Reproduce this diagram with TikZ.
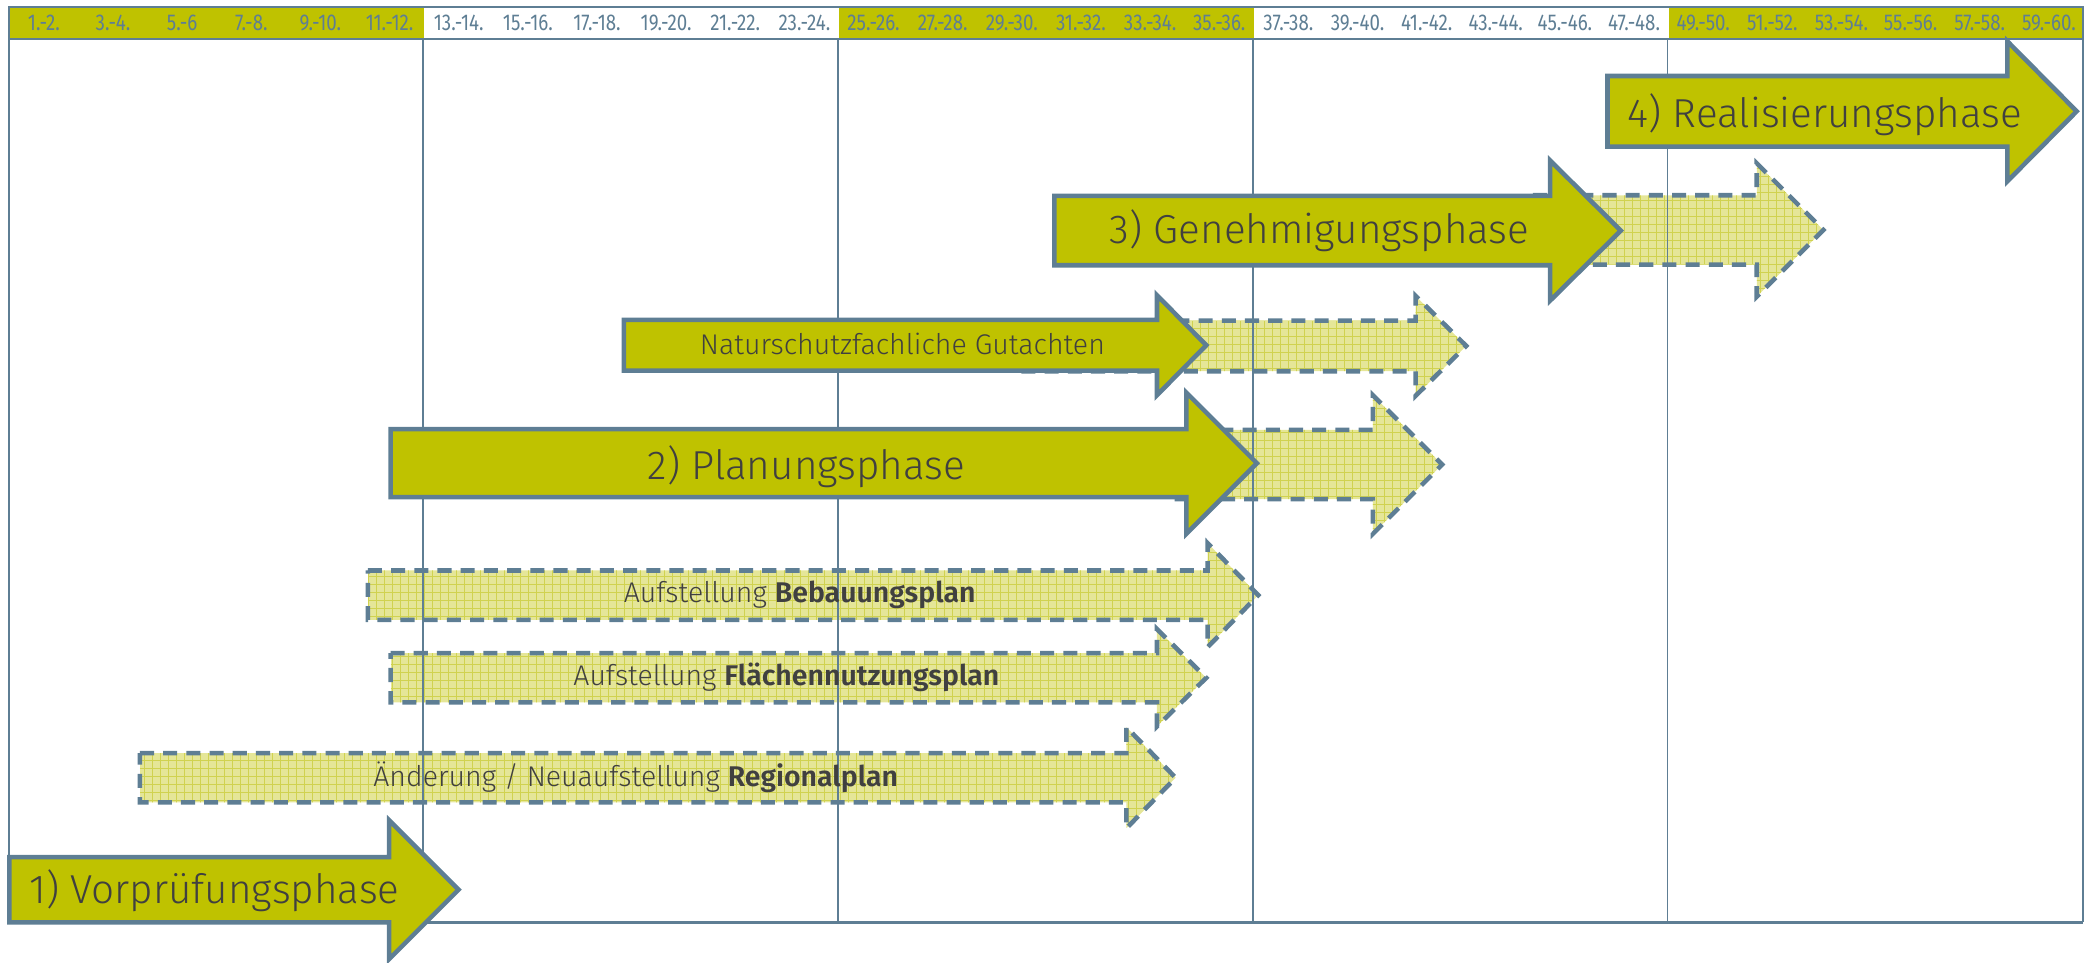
\documentclass[tikz,border=0pt]{standalone}
\usepackage{fontspec}
\setmainfont{Fira Sans}[UprightFont={* Light},BoldFont={* SemiBold}]
\newfontfamily\weekfont{Fira Sans}[FakeStretch=0.82]
\definecolor{phasegreen}{RGB}{191,194,0}
\definecolor{rulegray}{RGB}{94,126,148}
\definecolor{textgray}{RGB}{64,64,64}
\definecolor{hatchbase}{RGB}{229,230,152}
\definecolor{hatchline}{RGB}{208,210,80}
% arrow outline: left, head base, tip, centre y, half body, half head
\newcommand{\arrowpath}[6]{(#1,#4-#5) -- (#2,#4-#5) -- (#2,#4-#6) -- (#3,#4) -- (#2,#4+#6) -- (#2,#4+#5) -- (#1,#4+#5) -- cycle}
\newcommand{\gridarrow}[6]{%
  \begin{scope}
    \clip \arrowpath{#1}{#2}{#3}{#4}{#5}{#6};
    \fill[hatchfill] (#1,#4+#6) rectangle (#3,#4-#6);
    \draw[hatchgrid] (#1,#4+#6) grid (#3,#4-#6);
  \end{scope}
  \draw[hatchedge] \arrowpath{#1}{#2}{#3}{#4}{#5}{#6};}
\begin{document}
\begin{tikzpicture}[x=0.13329mm,y=-0.13329mm,
  rule/.style={draw=rulegray,line width=0.55pt},
  phase/.style={fill=phasegreen,draw=rulegray,line width=1.3pt,line join=miter},
  hatchfill/.style={fill=hatchbase},
  hatchgrid/.style={draw=hatchline,line width=0.25pt,step=0.8mm},
  hatchedge/.style={draw=rulegray,line width=1.3pt,dash pattern=on 4pt off 2.6pt},
  biglabel/.style={text=textgray,font=\fontsize{11.5}{13}\selectfont,inner sep=0pt},
  midlabel/.style={text=textgray,font=\fontsize{8.1}{9}\selectfont,inner sep=0pt},
  weeklabel/.style={text=rulegray,font=\weekfont\fontsize{6.5}{7}\selectfont,inner sep=0pt}]
  \useasboundingbox (0,0) rectangle (1568,722);
  % header
  \foreach \k in {0,2,4}
    \fill[phasegreen] ({7+\k*311.2},5) rectangle ({7+(\k+1)*311.2},29);
  \foreach \lab [count=\i] in {1.-2.,3.-4.,5.-6,7.-8.,9.-10.,11.-12.,13.-14.,15.-16.,17.-18.,19.-20.,
      21.-22.,23.-24.,25.-26.,27.-28.,29.-30.,31.-32.,33.-34.,35.-36.,37.-38.,39.-40.,
      41.-42.,43.-44.,45.-46.,47.-48.,49.-50.,51.-52.,53.-54.,55.-56.,57.-58.,59.-60.}
    \node[weeklabel] (w\i) at ({7+(\i-0.5)*51.87},17.5) {\lab};
  % open steps
  \gridarrow{105}{845}{882}{583.5}{18.5}{38}
  \gridarrow{293}{868}{905}{508.5}{18.5}{36.5}
  \gridarrow{276}{906}{944}{446.5}{18.5}{39}
  \gridarrow{880}{1030}{1082}{348.5}{26}{52}
  \gridarrow{760}{1062}{1100}{259.5}{19}{37.5}
  \gridarrow{1150}{1318}{1368}{172.5}{26}{50}
  % grid
  \draw[rule] (7,29) -- (1563,29);
  \foreach \x in {317,629,940,1251}
    \draw[rule] (\x,29) -- (\x,692);
  \draw[rule,line width=0.65pt] (7,692) -- (7,5) -- (1563,5) -- (1563,692);
  \draw[rule,line width=0.9pt] (7,692) -- (1563,692);
  % phases
  \draw[phase] \arrowpath{7}{292}{344}{667.5}{24.5}{52};
  \draw[phase] \arrowpath{293}{890}{943}{347.5}{25.5}{53};
  \draw[phase] \arrowpath{468}{868}{905}{259}{19}{37.5};
  \draw[phase] \arrowpath{791}{1163}{1216}{173}{26}{52.5};
  \draw[phase] \arrowpath{1206}{1506}{1558}{83.5}{26.5}{52.5};
  % labels
  \node[biglabel] (vor) at (161,668) {1) Vorprüfungsphase};
  \node[midlabel] (regio) at (477,583) {Änderung / Neuaufstellung \textbf{Regionalplan}};
  \node[midlabel] (fnp) at (590,508) {Aufstellung \textbf{Flächennutzungsplan}};
  \node[midlabel] (bplan) at (600,446) {Aufstellung \textbf{Bebauungsplan}};
  \node[biglabel] (plan) at (605,350) {2) Planungsphase};
  \node[midlabel] (natur) at (677,258) {Naturschutzfachliche Gutachten};
  \node[biglabel] (genehm) at (990,173) {3) Genehmigungsphase};
  \node[biglabel] (real) at (1369,86) {4) Realisierungsphase};
\end{tikzpicture}
\end{document}
